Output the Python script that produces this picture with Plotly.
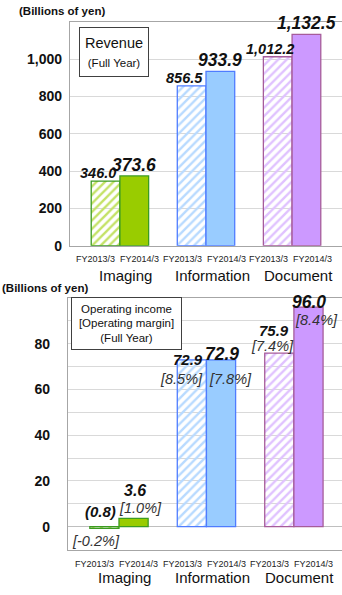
import plotly.graph_objects as go

# ---------------- data ----------------
categories = ["Imaging", "Information", "Document"]
periods = ["FY2013/3", "FY2014/3"]
revenue_fy2013 = [346.0, 856.5, 1012.2]
revenue_fy2014 = [373.6, 933.9, 1132.5]
opinc_fy2013 = [-0.8, 72.9, 75.9]
opinc_fy2014 = [3.6, 72.9, 96.0]
margin_fy2013 = [-0.2, 8.5, 7.4]
margin_fy2014 = [1.0, 7.8, 8.4]
rev_tickvals = [0, 200, 400, 600, 800, 1000]
rev_ticktext = ["0", "200", "400", "600", "800", "1,000"]
oi_tickvals = [0, 10, 20, 30, 40, 50, 60, 70, 80, 90]
oi_ticktext = ["0", "", "20", "", "40", "", "60", "", "80", ""]
unit_label = "(Billions of yen)"

# ---------------- styles ----------------
W, H = 342, 595
FONT = "Arial, Liberation Sans, Helvetica, sans-serif"
solid = ["#99cc00", "#99ccff", "#cc99ff"]
stripe = ["#c4e266", "#b8daff", "#e0c2ff"]
edge = ["#3c9b22", "#4f7cff", "#a65c9a"]
GRID = "#d9d9d9"
AXIS = "#a6a6a6"


def py(y):
    return 1 - y / H


def fmt_money(v):
    return f"({abs(v):.1f})" if v < 0 else f"{v:,.1f}"


fig = go.Figure()

hatch = dict(shape="/", size=6, solidity=0.4, bgcolor="white", fillmode="replace")

# top: revenue
fig.add_trace(go.Bar(x=categories, y=revenue_fy2013, name=periods[0], xaxis="x", yaxis="y",
                     marker=dict(color=stripe, line=dict(color=edge, width=1.3), pattern=hatch)))
fig.add_trace(go.Bar(x=categories, y=revenue_fy2014, name=periods[1], xaxis="x", yaxis="y",
                     marker=dict(color=solid, line=dict(color=edge, width=1.3))))
# bottom: operating income
fig.add_trace(go.Bar(x=categories, y=opinc_fy2013, name=periods[0], xaxis="x2", yaxis="y2",
                     marker=dict(color=stripe, line=dict(color=edge, width=1.3), pattern=hatch)))
fig.add_trace(go.Bar(x=categories, y=opinc_fy2014, name=periods[1], xaxis="x2", yaxis="y2",
                     marker=dict(color=solid, line=dict(color=edge, width=1.3))))

ann = []

# revenue value labels
for i, c in enumerate(categories):
    ann.append(dict(x=c, y=revenue_fy2013[i], xref="x", yref="y", text=f"<b><i>{fmt_money(revenue_fy2013[i])}</i></b>",
                    xshift=-22, yshift=8, showarrow=False, yanchor="middle", borderpad=0,
                    font=dict(size=14.5, color="#111")))
    ann.append(dict(x=c, y=revenue_fy2014[i], xref="x", yref="y", text=f"<b><i>{fmt_money(revenue_fy2014[i])}</i></b>",
                    xshift=14, yshift=11, showarrow=False, yanchor="middle", borderpad=0,
                    font=dict(size=17.5, color="#111")))

# operating income labels (pixel offsets, style only)
v13_off = [(-18, 15), (-18, 0), (-20, 23)]
v14_off = [(16, 28), (16, 6), (15, 5)]
v14_size = [16, 17.5, 17.5]
m13_off = [(-23, -14), (-25, -19), (-21, 7)]
m14_off = [(22, 10), (24, -19), (23, -13)]
for i, c in enumerate(categories):
    b13 = max(opinc_fy2013[i], 0)
    b14 = max(opinc_fy2014[i], 0)
    ann.append(dict(x=c, y=b13, xref="x2", yref="y2", text=f"<b><i>{fmt_money(opinc_fy2013[i])}</i></b>",
                    xshift=v13_off[i][0], yshift=v13_off[i][1], showarrow=False, yanchor="middle", borderpad=0,
                    font=dict(size=15, color="#111")))
    ann.append(dict(x=c, y=b14, xref="x2", yref="y2", text=f"<b><i>{fmt_money(opinc_fy2014[i])}</i></b>",
                    xshift=v14_off[i][0], yshift=v14_off[i][1], showarrow=False, yanchor="middle", borderpad=0,
                    font=dict(size=v14_size[i], color="#111")))
    ann.append(dict(x=c, y=b13, xref="x2", yref="y2", text=f"<i>[{margin_fy2013[i]:.1f}%]</i>",
                    xshift=m13_off[i][0], yshift=m13_off[i][1], showarrow=False, yanchor="middle", borderpad=0,
                    font=dict(size=14.5, color="#333")))
    ann.append(dict(x=c, y=b14, xref="x2", yref="y2", text=f"<i>[{margin_fy2014[i]:.1f}%]</i>",
                    xshift=m14_off[i][0], yshift=m14_off[i][1], showarrow=False, yanchor="middle", borderpad=0,
                    font=dict(size=14.5, color="#333")))

# category / period labels
for xr, yfy, ycat in (("x", 263, 279), ("x2", 572, 585)):
    for c in categories:
        ann.append(dict(x=c, y=py(yfy), xref=xr, yref="paper", text=periods[0], xshift=-24,
                        showarrow=False, yanchor="middle", font=dict(size=9, color="#222")))
        ann.append(dict(x=c, y=py(yfy), xref=xr, yref="paper", text=periods[1], xshift=20,
                        showarrow=False, yanchor="middle", font=dict(size=9, color="#222")))
        ann.append(dict(x=c, y=py(ycat), xref=xr, yref="paper", text=c, xshift=6,
                        showarrow=False, yanchor="middle", font=dict(size=15, color="#111")))

# unit labels
ann.append(dict(x=17 / W, y=py(11), xref="paper", yref="paper", text=f"<b>{unit_label}</b>",
                showarrow=False, xanchor="left", yanchor="middle", font=dict(size=11.5, color="#111")))
ann.append(dict(x=0, y=py(292), xref="paper", yref="paper", text=f"<b>{unit_label}</b>",
                showarrow=False, xanchor="left", yanchor="middle", font=dict(size=11.5, color="#111")))

# boxes
ann.append(dict(x=113.5 / W, y=py(52.5), xref="paper", yref="paper",
                text="Revenue<br><span style='font-size:11.5px'>(Full Year)</span>",
                showarrow=False, xanchor="center", yanchor="middle", width=66, height=46,
                bordercolor="#404040", borderwidth=1, borderpad=1, bgcolor="white",
                font=dict(size=14.5, color="#111")))
ann.append(dict(x=126 / W, y=py(328), xref="paper", yref="paper",
                text="Operating income<br>[Operating margin]<br>(Full Year)",
                showarrow=False, xanchor="center", yanchor="middle", width=107, height=49,
                bordercolor="#404040", borderwidth=1, borderpad=1, bgcolor="white",
                font=dict(size=11.5, color="#111")))

tickfont = dict(size=14, color="#111", family=FONT, weight="bold")

fig.update_layout(
    width=W, height=H, autosize=False,
    margin=dict(l=0, r=0, t=0, b=0),
    paper_bgcolor="white", plot_bgcolor="white",
    showlegend=False,
    barmode="group", bargap=0.333, bargroupgap=0,
    font=dict(family=FONT, color="#111"),
    annotations=ann,
    xaxis=dict(domain=[70 / W, 1], range=[-0.58, 2.58], anchor="y", showticklabels=False,
               showgrid=False, showline=True, linecolor=AXIS, linewidth=1.2, mirror=True, ticks=""),
    yaxis=dict(domain=[py(249), py(22)], range=[0, 1200], anchor="x",
               tickvals=rev_tickvals, ticktext=rev_ticktext, showgrid=True, gridcolor=GRID,
               showline=True, linecolor=AXIS, linewidth=1.2, zeroline=False, ticks="",
               ticklabelstandoff=4, tickfont=tickfont),
    xaxis2=dict(domain=[68 / W, 1], range=[-0.583, 2.55], anchor="y2", showticklabels=False,
                showgrid=False, showline=True, linecolor=AXIS, linewidth=1.2, mirror=True, ticks=""),
    yaxis2=dict(domain=[py(557), py(302)], range=[-10, 100], anchor="x2",
                tickvals=oi_tickvals, ticktext=oi_ticktext, showgrid=True, gridcolor=GRID,
                showline=True, linecolor=AXIS, linewidth=1.2, zeroline=True, zerolinecolor="#bfbfbf",
                zerolinewidth=1, ticks="", ticklabelstandoff=14, tickfont=tickfont),
)

fig.write_html("out.html")
